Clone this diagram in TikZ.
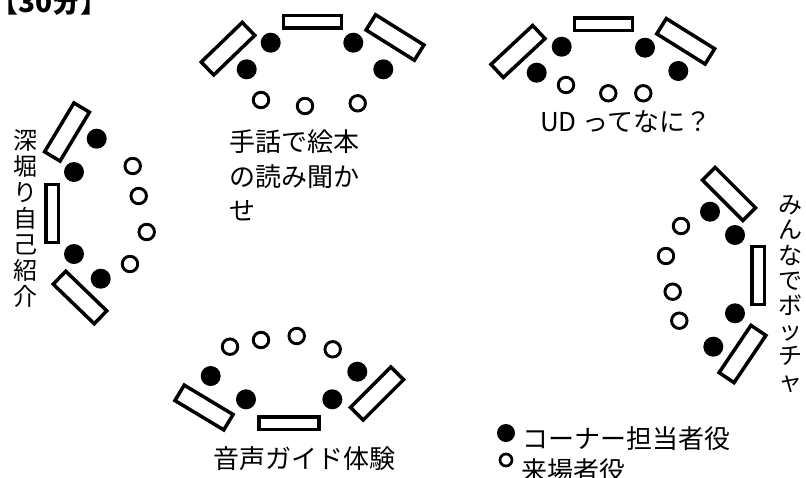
\documentclass[tikz,border=0pt]{standalone}
\usepackage{fontspec}
\newfontfamily\cjk{Noto Sans CJK JP}
\begin{document}
\begin{tikzpicture}[x=1pt,y=-1pt,
  jtext/.style={font=\cjk\fontsize{26}{34.5}\selectfont,inner sep=0pt},
  vtext/.style={font=\cjk\fontsize{24}{26}\selectfont,inner sep=0pt,align=center},
  tiltbench/.style={draw,line width=3.5pt,rectangle,minimum width=57pt,minimum height=18pt,inner sep=0pt},
  flatbench/.style={draw,line width=3.5pt,rectangle,minimum width=58pt,minimum height=12.5pt,inner sep=0pt},
  staff/.style={circle,fill=black,minimum size=20pt,inner sep=0pt},
  guest/.style={circle,draw,line width=2.9pt,minimum size=15.5pt,inner sep=0pt}]
\useasboundingbox (0,0) rectangle (806,477);
\clip (0,0) rectangle (806,477);
% title (clipped)
\node[font=\cjk\bfseries\fontsize{28}{28}\selectfont,inner sep=0pt,anchor=base west] (title) at (-10,12) {【30分】};
% group 1
\node[flatbench] (g1b) at (312.5,21.5) {};
\node[tiltbench,rotate=44] (g1l) at (228,48.7) {};
\node[tiltbench,rotate=-32] (g1r) at (395,37.5) {};
\node[staff] (g1s1) at (270.7,42.7) {};
\node[staff] (g1s2) at (246.7,69.3) {};
\node[staff] (g1s3) at (353.3,42.7) {};
\node[staff] (g1s4) at (383.3,69.3) {};
\node[guest] (g1g1) at (261,100) {};
\node[guest] (g1g2) at (305,106) {};
\node[guest] (g1g3) at (357.7,103.3) {};
\node[jtext,align=left,anchor=north west] (g1t) at (229,129.5) {手話で絵本\\の読み聞か\\せ};
% group 2
\node[flatbench] (g2b) at (603.3,24.3) {};
\node[tiltbench,rotate=43] (g2l) at (518,51.5) {};
\node[tiltbench,rotate=-32] (g2r) at (685.7,41.3) {};
\node[staff] (g2s1) at (561.7,46.7) {};
\node[staff] (g2s2) at (536.7,72.7) {};
\node[staff] (g2s3) at (645,47.7) {};
\node[staff] (g2s4) at (678.3,71) {};
\node[guest] (g2g1) at (566,85) {};
\node[guest] (g2g2) at (608.3,93.3) {};
\node[guest] (g2g3) at (643.3,93.3) {};
\node[jtext,anchor=base west] (g2t) at (540,131.5) {UD ってなに？};
% group 3
\node[tiltbench,rotate=59] (g3u) at (67,132) {};
\node[flatbench,rotate=90] (g3m) at (52,213.7) {};
\node[tiltbench,rotate=-44] (g3d) at (80,297.5) {};
\node[staff] (g3s1) at (96.7,138.7) {};
\node[staff] (g3s2) at (74,172) {};
\node[staff] (g3s3) at (74,254) {};
\node[staff] (g3s4) at (100.7,278.7) {};
\node[guest] (g3g1) at (132.7,166) {};
\node[guest] (g3g2) at (138.7,196) {};
\node[guest] (g3g3) at (146.7,232) {};
\node[guest] (g3g4) at (130,264) {};
\node[vtext] (g3t) at (25,218.5) {深\\堀\\り\\自\\己\\紹\\介};
% group 4
\node[tiltbench,rotate=-45] (g4u) at (729,194) {};
\node[flatbench,rotate=90] (g4m) at (758,275.5) {};
\node[tiltbench,rotate=56] (g4d) at (742.5,354) {};
\node[staff] (g4s1) at (710,211.7) {};
\node[staff] (g4s2) at (735,235) {};
\node[staff] (g4s3) at (735,313.3) {};
\node[staff] (g4s4) at (713.3,346.7) {};
\node[guest] (g4g1) at (681,226) {};
\node[guest] (g4g2) at (666,256) {};
\node[guest] (g4g3) at (672.7,291.7) {};
\node[guest] (g4g4) at (679.3,320.7) {};
\node[vtext,font=\cjk\fontsize{24}{25.2}\selectfont] (g4t) at (790,294) {み\\ん\\な\\で\\ボ\\ッ\\チ\\ャ};
% group 5
\node[guest] (g5g1) at (230,346.7) {};
\node[guest] (g5g2) at (261,340) {};
\node[guest] (g5g3) at (296.7,336) {};
\node[guest] (g5g4) at (332.7,349.3) {};
\node[staff] (g5s1) at (210.7,376) {};
\node[staff] (g5s2) at (246,399.3) {};
\node[staff] (g5s3) at (332.3,399.3) {};
\node[staff] (g5s4) at (357.3,371.7) {};
\node[tiltbench,rotate=-31] (g5l) at (204,407.5) {};
\node[flatbench,minimum width=60pt] (g5b) at (289,423) {};
\node[tiltbench,rotate=45] (g5r) at (377,393.5) {};
\node[jtext,anchor=base west] (g5t) at (213,468) {音声ガイド体験};
% legend
\node[staff,minimum size=18pt] (ls) at (506,433) {};
\node[jtext,anchor=base west] (lst) at (522.5,448) {コーナー担当者役};
\node[guest,minimum size=12pt,line width=2.7pt] (lg) at (506,460) {};
\node[jtext,anchor=base west] (lgt) at (521.5,480) {来場者役};
\end{tikzpicture}
\end{document}
